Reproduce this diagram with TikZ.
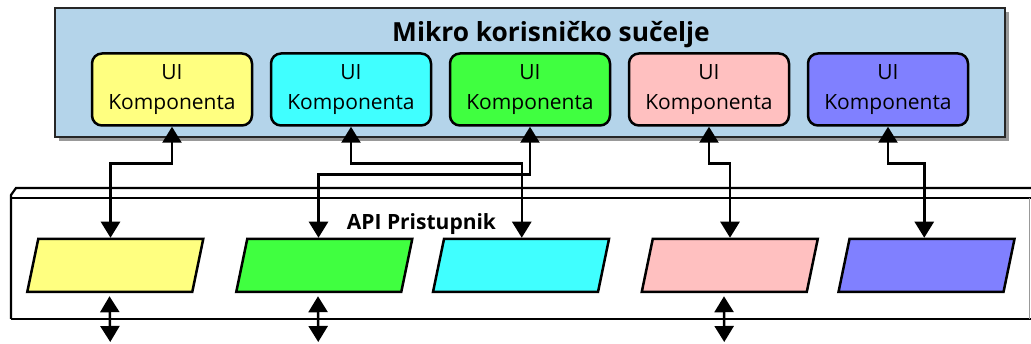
\documentclass[tikz,border=0pt]{standalone}
\usepackage{fontspec}
\setmainfont{Open Sans}
\usetikzlibrary{arrows.meta,shadows}
\definecolor{panelblue}{RGB}{180,212,234}
\definecolor{cyellow}{RGB}{255,255,128}
\definecolor{ccyan}{RGB}{64,255,255}
\definecolor{cgreen}{RGB}{64,255,64}
\definecolor{cpink}{RGB}{255,192,192}
\definecolor{cpurple}{RGB}{128,128,255}
\begin{document}
\begin{tikzpicture}[x=1pt,y=-1pt,
  panel/.style={draw=black!85, line width=2.5pt, fill=panelblue, inner sep=0pt,
    drop shadow={shadow xshift=4pt, shadow yshift=-4pt, opacity=0.4, fill=black}},
  uibox/.style={draw=black, line width=2.5pt, rounded corners=10pt, minimum width=160pt,
    minimum height=72pt, inner sep=0pt, align=center, font=\fontsize{21}{30}\selectfont},
  para/.style={draw=black, line width=2.5pt, xslant=0.2075, minimum width=165pt,
    minimum height=53pt, inner sep=0pt},
  gateline/.style={line width=2.2pt, draw=black},
  tipshape/.tip={Triangle[width=19pt,length=16pt]},
  link/.style={line width=2.5pt, tipshape-tipshape},
  ]
\fill[white] (0,0) rectangle (1031,344);
\useasboundingbox (0,0) rectangle (1031,344);

% micro frontend panel
\node[panel, minimum width=950pt, minimum height=129pt] (panel) at (530,72.5) {};
\node[anchor=base, font=\fontsize{26.3}{30}\selectfont\bfseries] (title) at (551,42) {Mikro korisničko sučelje};

\node[uibox, fill=cyellow] (ui1) at (172,89.5) {UI\\Komponenta};
\node[uibox, fill=ccyan]   (ui2) at (351,89.5) {UI\\Komponenta};
\node[uibox, fill=cgreen]  (ui3) at (530,89.5) {UI\\Komponenta};
\node[uibox, fill=cpink]   (ui4) at (709,89.5) {UI\\Komponenta};
\node[uibox, fill=cpurple] (ui5) at (888,89.5) {UI\\Komponenta};

% API gateway box
\draw[gateline] (11,319) -- (11,195) -- (16,188) -- (1031,188);
\draw[gateline] (11,198) -- (1031,198);
\draw[gateline] (11,319) -- (1031,319);
\draw[black!40, line width=1pt] (1029.5,198) -- (1029.5,319);
\node[anchor=base, font=\fontsize{21}{25}\selectfont\bfseries] (api) at (421.5,230) {API Pristupnik};

\node[para, fill=cyellow] (p1) at (115.25,265.5) {};
\node[para, fill=cgreen]  (p2) at (324.25,265.5) {};
\node[para, fill=ccyan]   (p3) at (521,265.5) {};
\node[para, fill=cpink]   (p4) at (729.75,265.5) {};
\node[para, fill=cpurple] (p5) at (926.5,265.5) {};

% connectors
\draw[link] (ui1.south) -- ++(0,37) -| ([xshift=-10.5pt]p1.north);
\draw[link] (ui2.south) -- ++(0,37) -| ([xshift=-5pt]p3.north);
\draw[link] (ui3.south) -- ++(0,48) -| ([xshift=-11.5pt]p2.north);
\draw[link] (ui4.south) -- ++(0,37) -| ([xshift=-5.5pt]p4.north);
\draw[link] (ui5.south) -- ++(0,37) -| ([xshift=-8pt]p5.north);

\coordinate (o1) at (110.25,342);
\coordinate (o2) at (318.25,342);
\coordinate (o4) at (724.25,342);
\draw[link] ([xshift=0pt,yshift=-3pt]p1.south) -- (o1);
\draw[link] ([xshift=-0.5pt,yshift=-3pt]p2.south) -- (o2);
\draw[link] ([xshift=0pt,yshift=-3pt]p4.south) -- (o4);
\end{tikzpicture}
\end{document}
